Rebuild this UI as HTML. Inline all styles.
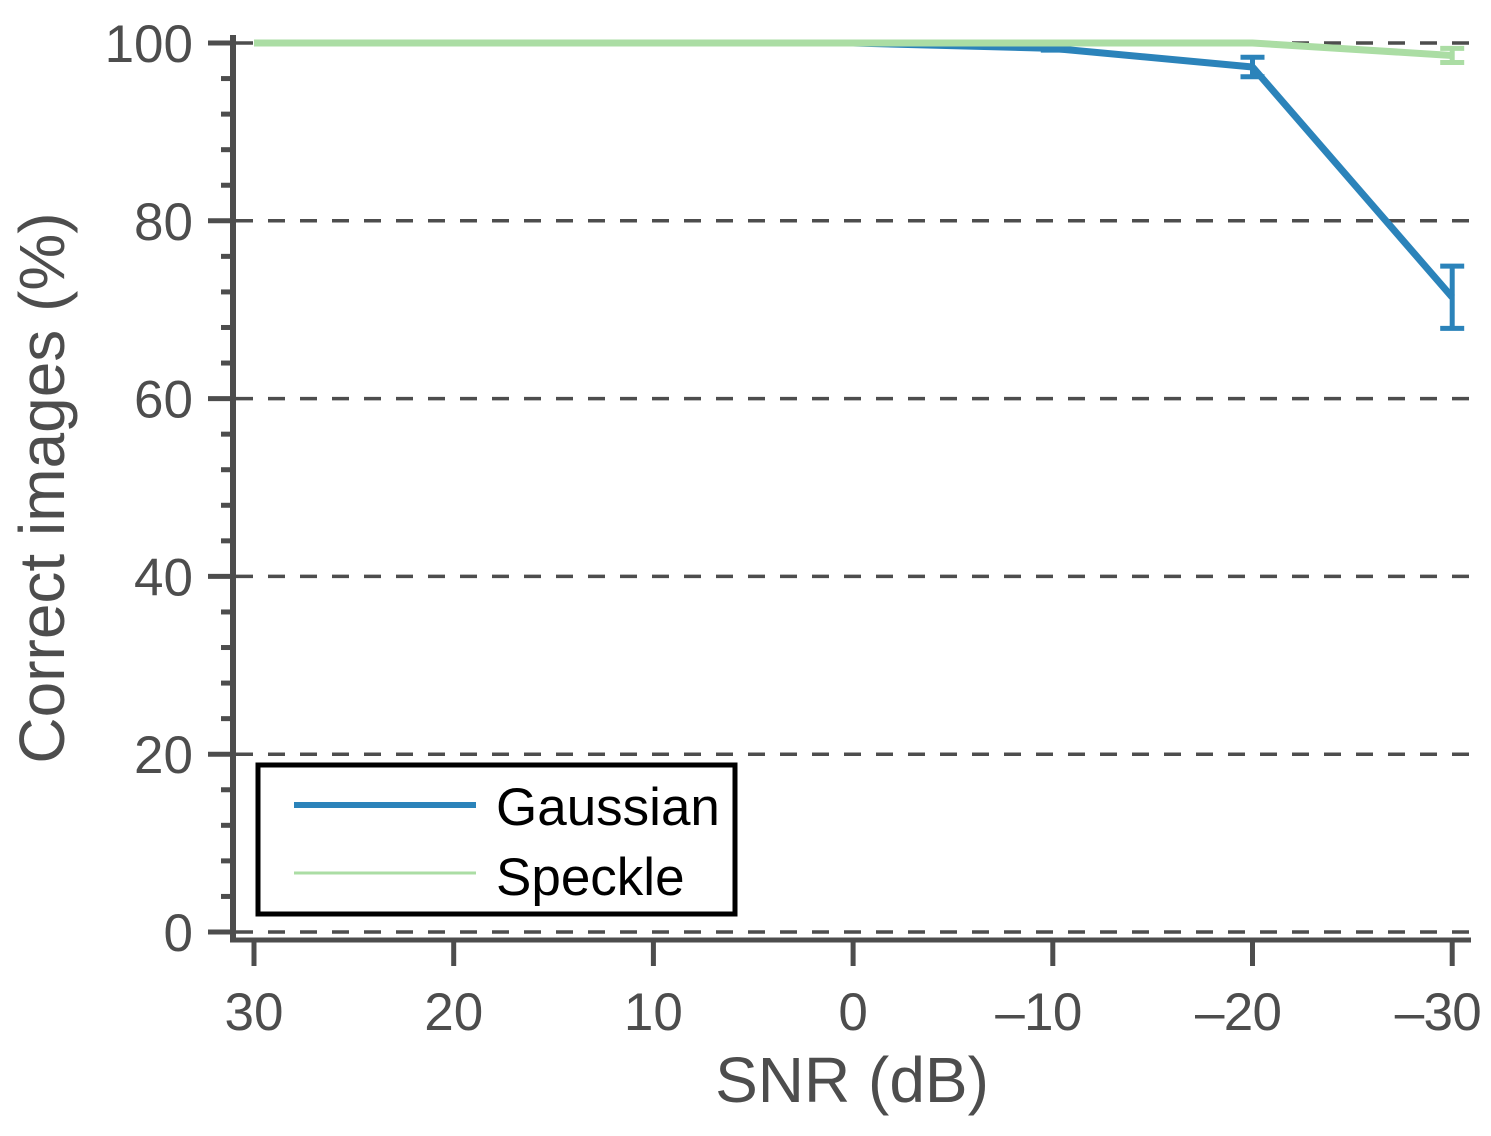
<!DOCTYPE html>
<html><head><meta charset="utf-8"><style>
body{margin:0;background:#fff;}
svg text{font-family:"Liberation Sans",sans-serif;}
</style></head><body>
<svg id="chart" width="1491" height="1131" xmlns="http://www.w3.org/2000/svg"></svg>
<script>
const xCategories=[30,20,10,0,-10,-20,-30];
const xTickLabels=["30","20","10","0","\u201310","\u201320","\u201330"];
const yTicks=[0,20,40,60,80,100];
const gaussian=[100,100,100,100,99.4,97.3,71.4];
const gaussianErr=[0,0,0,0,0.2,1.1,3.5];
const speckle=[100,100,100,100,100,100,98.6];
const speckleErr=[0,0,0,0,0,0,0.8];

const svg=document.getElementById('chart');
const NS='http://www.w3.org/2000/svg';
const X=v=>254+(30-v)*19.97;
const Y=v=>932-v*8.89;
function el(tag,attrs,parent){const e=document.createElementNS(NS,tag);for(const k in attrs)e.setAttribute(k,attrs[k]);(parent||svg).appendChild(e);return e;}
const GREY='#4d4d4d';

yTicks.forEach(t=>{
  const g=el('line',{x1:236,x2:1474,y1:Y(t),y2:Y(t),stroke:GREY,'stroke-width':3.5,'stroke-dasharray':'17 15'});
  
  
});
for(let v=0;v<=100;v+=4){
  if(v%20===0)continue;
  const m=el('line',{x1:221,x2:233,y1:Y(v),y2:Y(v),stroke:GREY,'stroke-width':5});
  
  
}
yTicks.forEach(t=>{
  const m=el('line',{x1:208,x2:233,y1:Y(t),y2:Y(t),stroke:GREY,'stroke-width':5});
  
  
  const tx=el('text',{x:193,y:Y(t)+19,'text-anchor':'end','font-size':53,fill:GREY});
  tx.textContent=t;
  
  
});
const ya=el('line',{x1:233,x2:233,y1:35,y2:942,stroke:GREY,'stroke-width':6});


const xa=el('line',{x1:230,x2:1471,y1:940,y2:940,stroke:GREY,'stroke-width':5});


xCategories.forEach((c,i)=>{
  const m=el('line',{x1:X(c),x2:X(c),y1:940,y2:966,stroke:GREY,'stroke-width':5});
  
  
  const neg=c<0;
  const tx=el('text',{x:X(c)-(neg?14:0),y:1030,'text-anchor':'middle','font-size':53,fill:GREY});
  if(neg)tx.setAttribute('textLength',87);
  tx.textContent=xTickLabels[i];
  
  
});
function series(vals,errs,color,w,name){
  const p=el('polyline',{points:vals.map((v,i)=>X(xCategories[i])+','+Y(v)).join(' '),fill:'none',stroke:color,'stroke-width':w,'stroke-linejoin':'round'});
  
  
  vals.forEach((v,i)=>{
    if(!errs[i])return;
    const x=X(xCategories[i]);
    const g=el('path',{d:`M${x},${Y(v+errs[i])}V${Y(v-errs[i])}M${x-12},${Y(v+errs[i])}H${x+12}M${x-12},${Y(v-errs[i])}H${x+12}`,stroke:color,'stroke-width':5,fill:'none'});
    
    
  });
}
series(gaussian,gaussianErr,'#2b83ba',7,'gaussian');
series(speckle,speckleErr,'#abdda4',7,'speckle');
const lg=el('g',{});


el('rect',{x:258,y:765,width:477,height:149,fill:'#fff',stroke:'#000','stroke-width':5},lg);
const l1=el('line',{x1:294,x2:476,y1:805,y2:805,stroke:'#2b83ba','stroke-width':6},lg);


const t1=el('text',{x:496,y:825,'font-size':53,fill:'#000'},lg);t1.textContent='Gaussian';


const l2=el('line',{x1:294,x2:476,y1:873,y2:873,stroke:'#abdda4','stroke-width':3},lg);


const t2=el('text',{x:496,y:895,'font-size':53,fill:'#000'},lg);t2.textContent='Speckle';


const xt=el('text',{x:852,y:1102,'text-anchor':'middle','font-size':64,fill:GREY});
xt.textContent='SNR (dB)';


const yt=el('text',{x:0,y:0,'text-anchor':'middle','font-size':64,fill:GREY,transform:'translate(64,488) rotate(-90)'});
yt.textContent='Correct images (%)';


</script>
</body></html>
